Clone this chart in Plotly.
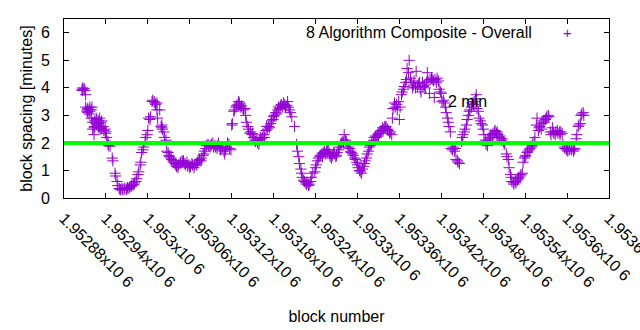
import plotly.graph_objects as go

blocks = [
    1952906, 1952906, 1952907, 1952907, 1952909, 1952910, 1952911, 1952911, 1952913, 1952913,
    1952914, 1952914, 1952916, 1952916, 1952917, 1952917, 1952919, 1952919, 1952920, 1952921,
    1952921, 1952923, 1952923, 1952924, 1952924, 1952926, 1952926, 1952927, 1952927, 1952929,
    1952929, 1952930, 1952930, 1952931, 1952931, 1952933, 1952933, 1952934, 1952934, 1952936,
    1952937, 1952939, 1952939, 1952940, 1952941, 1952943, 1952943, 1952944, 1952946, 1952949,
    1952950, 1952953, 1952954, 1952956, 1952957, 1952959, 1952960, 1952961, 1952963, 1952964,
    1952966, 1952967, 1952969, 1952970, 1952971, 1952973, 1952974, 1952976, 1952977, 1952979,
    1952980, 1952981, 1952983, 1952984, 1952986, 1952987, 1952989, 1952990, 1952991, 1952993,
    1952994, 1952996, 1952997, 1952999, 1953000, 1953001, 1953003, 1953004, 1953006, 1953007,
    1953009, 1953010, 1953011, 1953013, 1953013, 1953014, 1953017, 1953019, 1953020, 1953020,
    1953021, 1953023, 1953024, 1953026, 1953027, 1953029, 1953030, 1953031, 1953033, 1953034,
    1953036, 1953037, 1953039, 1953040, 1953041, 1953043, 1953044, 1953046, 1953047, 1953049,
    1953050, 1953051, 1953053, 1953054, 1953056, 1953057, 1953059, 1953060, 1953061, 1953063,
    1953064, 1953066, 1953067, 1953069, 1953070, 1953071, 1953073, 1953074, 1953076, 1953077,
    1953079, 1953080, 1953081, 1953083, 1953084, 1953086, 1953087, 1953089, 1953090, 1953091,
    1953093, 1953094, 1953096, 1953097, 1953099, 1953100, 1953101, 1953103, 1953104, 1953106,
    1953107, 1953109, 1953110, 1953111, 1953113, 1953114, 1953116, 1953117, 1953119, 1953120,
    1953121, 1953123, 1953124, 1953126, 1953127, 1953129, 1953130, 1953131, 1953133, 1953134,
    1953136, 1953137, 1953139, 1953140, 1953141, 1953143, 1953144, 1953146, 1953147, 1953149,
    1953150, 1953151, 1953153, 1953154, 1953156, 1953157, 1953159, 1953160, 1953161, 1953163,
    1953164, 1953166, 1953167, 1953169, 1953170, 1953171, 1953173, 1953174, 1953176, 1953177,
    1953179, 1953180, 1953181, 1953183, 1953184, 1953186, 1953187, 1953189, 1953190, 1953191,
    1953193, 1953194, 1953196, 1953197, 1953199, 1953200, 1953201, 1953203, 1953204, 1953206,
    1953210, 1953213, 1953214, 1953216, 1953217, 1953219, 1953220, 1953221, 1953223, 1953224,
    1953226, 1953227, 1953229, 1953230, 1953231, 1953233, 1953234, 1953236, 1953239, 1953240,
    1953241, 1953243, 1953244, 1953246, 1953247, 1953249, 1953250, 1953251, 1953253, 1953254,
    1953256, 1953257, 1953259, 1953260, 1953261, 1953263, 1953264, 1953266, 1953267, 1953269,
    1953270, 1953271, 1953273, 1953274, 1953276, 1953277, 1953279, 1953280, 1953281, 1953283,
    1953284, 1953286, 1953287, 1953289, 1953290, 1953291, 1953293, 1953294, 1953296, 1953297,
    1953299, 1953300, 1953301, 1953303, 1953304, 1953306, 1953307, 1953309, 1953310, 1953311,
    1953313, 1953314, 1953316, 1953317, 1953319, 1953320, 1953321, 1953323, 1953324, 1953326,
    1953327, 1953329, 1953330, 1953331, 1953333, 1953334, 1953336, 1953337, 1953339, 1953340,
    1953341, 1953343, 1953344, 1953346, 1953347, 1953349, 1953350, 1953351, 1953353, 1953354,
    1953356, 1953357, 1953359, 1953360, 1953361, 1953363, 1953364, 1953366, 1953367, 1953369,
    1953370, 1953371, 1953373, 1953374, 1953376, 1953377, 1953379, 1953380, 1953381, 1953383,
    1953384, 1953386, 1953387, 1953389, 1953390, 1953391, 1953393, 1953394, 1953396, 1953397,
    1953399, 1953400, 1953401, 1953403, 1953404, 1953406, 1953407, 1953409, 1953410, 1953411,
    1953413, 1953414, 1953416, 1953417, 1953419, 1953420, 1953421, 1953423, 1953424, 1953426,
    1953427, 1953429, 1953430, 1953431, 1953433, 1953434, 1953436, 1953437, 1953439, 1953440,
    1953441, 1953443, 1953444, 1953446, 1953449, 1953450, 1953451, 1953453, 1953454, 1953456,
    1953457, 1953459, 1953460, 1953461, 1953463, 1953464, 1953466, 1953467, 1953469, 1953470,
    1953471, 1953473, 1953474, 1953476, 1953477, 1953479, 1953480, 1953481, 1953483, 1953484,
    1953486, 1953487, 1953489, 1953490, 1953491, 1953493, 1953494, 1953496, 1953497, 1953499,
    1953500, 1953501, 1953503, 1953504, 1953506, 1953507, 1953509, 1953510, 1953511, 1953513,
    1953514, 1953516, 1953517, 1953519, 1953520, 1953521, 1953523, 1953524, 1953526, 1953527,
    1953529, 1953530, 1953531, 1953533, 1953534, 1953536, 1953537, 1953539, 1953540, 1953541,
    1953543, 1953544, 1953546, 1953547, 1953549, 1953550, 1953551, 1953553, 1953554, 1953556,
    1953557, 1953559, 1953560, 1953561, 1953563, 1953564, 1953566, 1953567, 1953569, 1953570,
    1953571, 1953573, 1953574, 1953576, 1953577, 1953579, 1953580, 1953581, 1953583, 1953584,
    1953586, 1953587, 1953589, 1953590, 1953591, 1953593, 1953594, 1953596, 1953597, 1953599,
    1953600, 1953601, 1953603, 1953604, 1953606, 1953607, 1953609, 1953610, 1953611, 1953613,
    1953614, 1953616, 1953617, 1953619, 1953620, 1953621, 1953623, 1953624,
]

spacing = [
    3.95, 3.90, 4.00, 3.92, 3.97, 3.90, 3.75, 3.30, 3.20, 3.15,
    3.25, 3.10, 3.20, 3.05, 3.15, 3.30, 3.20, 2.90, 3.30, 2.75,
    2.50, 2.55, 2.30, 2.60, 2.80, 2.70, 2.90, 2.85, 2.65, 2.80,
    2.60, 2.70, 2.55, 2.90, 2.60, 2.75, 2.50, 2.80, 2.55, 2.60,
    2.45, 2.50, 2.35, 2.40, 2.20, 2.05, 1.95, 1.90, 1.88, 1.45,
    1.35, 0.90, 0.80, 0.60, 0.45, 0.35, 0.32, 0.30, 0.35, 0.30,
    0.32, 0.36, 0.30, 0.33, 0.38, 0.35, 0.40, 0.42, 0.45, 0.50,
    0.48, 0.55, 0.60, 0.70, 0.85, 0.95, 1.20, 1.30, 1.65, 1.75,
    1.85, 2.05, 2.20, 2.30, 2.45, 2.90, 2.85, 2.95, 3.50, 3.55,
    3.50, 3.45, 3.40, 3.45, 3.20, 2.90, 3.20, 2.60, 2.55, 2.65,
    2.50, 2.40, 2.20, 2.10, 1.70, 1.65, 1.55, 1.50, 1.45, 1.40,
    1.35, 1.30, 1.25, 1.20, 1.15, 1.10, 1.20, 1.25, 1.30, 1.35,
    1.30, 1.35, 1.25, 1.20, 1.30, 1.15, 1.20, 1.10, 1.15, 1.25,
    1.20, 1.10, 1.20, 1.25, 1.20, 1.30, 1.35, 1.40, 1.35, 1.45,
    1.55, 1.60, 1.70, 1.80, 1.90, 1.95, 1.90, 1.85, 1.90, 1.95,
    2.00, 1.85, 1.90, 1.85, 1.80, 1.90, 2.00, 1.85, 1.75, 1.80,
    1.85, 1.70, 1.60, 1.75, 1.85, 2.00, 1.95, 1.80, 1.75, 2.65,
    2.70, 3.15, 3.20, 3.30, 3.35, 3.40, 3.50, 3.45, 3.30, 3.35,
    3.25, 3.20, 3.25, 3.00, 2.75, 2.60, 2.50, 2.35, 2.40, 2.30,
    2.35, 2.20, 2.10, 2.05, 2.10, 2.00, 1.95, 2.10, 2.20, 2.15,
    2.20, 2.30, 2.20, 2.45, 2.60, 2.50, 2.60, 2.55, 2.70, 2.80,
    2.85, 2.95, 3.00, 3.10, 3.05, 3.20, 3.30, 3.25, 3.35, 3.40,
    3.30, 3.45, 3.40, 3.30, 3.35, 3.50, 3.30, 3.20, 3.10, 2.95,
    2.60, 1.95, 1.70, 1.50, 1.25, 1.05, 0.90, 0.75, 0.65, 0.60,
    0.55, 0.50, 0.55, 0.45, 0.50, 0.60, 0.75, 0.90, 0.95, 1.10,
    1.20, 1.35, 1.45, 1.50, 1.55, 1.60, 1.50, 1.65, 1.70, 1.60,
    1.75, 1.70, 1.75, 1.60, 1.50, 1.45, 1.55, 1.65, 1.60, 1.50,
    1.55, 1.65, 1.75, 1.85, 1.95, 2.00, 2.05, 2.00, 2.30, 2.10,
    2.05, 1.95, 1.85, 1.80, 1.70, 1.65, 1.60, 1.55, 1.45, 1.40,
    1.30, 1.20, 1.10, 1.00, 0.95, 0.90, 1.05, 1.15, 1.25, 1.35,
    1.45, 1.60, 1.70, 1.85, 1.90, 1.95, 2.05, 2.10, 2.20, 2.25,
    2.20, 2.30, 2.25, 2.35, 2.40, 2.45, 2.55, 2.50, 2.60, 2.55,
    2.60, 2.50, 2.45, 2.35, 2.40, 2.30, 2.90, 3.25, 3.45, 3.30,
    3.40, 3.20, 3.50, 2.85, 3.30, 3.75, 3.85, 3.95, 4.05, 4.20,
    4.30, 4.70, 4.55, 5.00, 4.35, 4.20, 4.00, 4.10, 4.25, 4.00,
    4.60, 4.05, 4.15, 4.20, 3.95, 3.85, 4.20, 4.05, 4.10, 4.00,
    4.20, 4.55, 4.25, 3.80, 4.30, 4.35, 4.30, 4.25, 3.65, 4.30,
    4.20, 4.35, 4.25, 3.95, 3.85, 3.80, 3.50, 3.55, 3.45, 3.30,
    3.10, 2.90, 2.75, 2.60, 2.40, 1.80, 1.75, 1.85, 1.70, 1.80,
    1.40, 1.35, 1.30, 1.25, 2.05, 2.20, 2.30, 2.40, 2.50, 2.65,
    2.85, 3.00, 3.15, 3.20, 3.30, 3.45, 3.40, 3.50, 3.60, 3.75,
    3.25, 3.15, 2.90, 2.80, 2.70, 2.65, 2.50, 2.30, 2.10, 1.95,
    1.90, 2.10, 2.15, 2.20, 2.30, 2.25, 2.35, 2.40, 2.45, 2.35,
    2.40, 2.30, 2.20, 2.25, 2.10, 2.15, 2.05, 1.95, 2.00, 1.60,
    1.50, 1.40, 1.10, 0.85, 0.75, 0.60, 0.55, 0.50, 0.60, 0.55,
    0.65, 0.70, 0.75, 0.80, 0.85, 0.90, 1.30, 1.45, 1.50, 1.55,
    1.65, 1.70, 1.75, 1.80, 1.85, 1.90, 2.00, 2.05, 2.20, 2.65,
    2.90, 2.45, 2.55, 2.60, 2.50, 2.70, 2.80, 2.75, 2.85, 2.90,
    2.95, 3.00, 2.95, 2.40, 2.30, 2.55, 2.40, 2.35, 2.30, 2.40,
    2.45, 2.35, 2.40, 2.30, 2.40, 2.35, 1.95, 1.85, 1.80, 1.75,
    1.80, 1.70, 1.75, 1.80, 1.75, 1.80, 1.70, 1.75, 1.80, 2.15,
    2.30, 2.60, 2.65, 2.70, 3.00, 3.05, 3.10, 3.00,
]

x_tick_values = [1952880, 1952940, 1953000, 1953060, 1953120, 1953180, 1953240,
                 1953300, 1953360, 1953420, 1953480, 1953540, 1953600, 1953660]
x_tick_labels = ["1.95288x10 6", "1.95294x10 6", "1.953x10 6", "1.95306x10 6",
                 "1.95312x10 6", "1.95318x10 6", "1.95324x10 6", "1.9533x10 6",
                 "1.95336x10 6", "1.95342x10 6", "1.95348x10 6", "1.95354x10 6",
                 "1.9536x10 6", "1.95366x10 6"]
y_tick_values = [0, 1, 2, 3, 4, 5, 6]

target_minutes = 2
series_name = "8 Algorithm Composite - Overall"
target_label = "2 min"
target_label_block = 1953426
target_label_value = 3.5

purple = "#9400d3"
font_family = "Liberation Sans, Arial, sans-serif"
fsize = 16

fig = go.Figure()
fig.add_trace(go.Scatter(
    x=blocks, y=spacing, mode="markers", name=series_name,
    marker=dict(symbol="cross-thin", size=8, line=dict(width=1, color=purple), color=purple),
    showlegend=False,
))

fig.add_shape(type="line", xref="paper", x0=0, x1=1, yref="y",
              y0=target_minutes, y1=target_minutes,
              line=dict(color="#00ff00", width=4), layer="above")

fig.add_annotation(x=target_label_block, y=target_label_value, text=target_label,
                   showarrow=False, xanchor="left", yanchor="middle",
                   font=dict(size=fsize, color="black", family=font_family))

# gnuplot-style key: text then sample symbol at right
fig.add_annotation(xref="paper", yref="paper", x=0.862, y=0.927, text=series_name,
                   showarrow=False, xanchor="right", yanchor="middle",
                   font=dict(size=fsize, color="black", family=font_family))
fig.add_annotation(xref="paper", yref="paper", x=0.923, y=0.927, text="+",
                   showarrow=False, xanchor="center", yanchor="middle",
                   font=dict(size=15, color=purple, family=font_family))

axis_common = dict(showline=True, linecolor="black", linewidth=1, mirror="allticks",
                   ticks="inside", ticklen=5, tickcolor="black", showgrid=False,
                   zeroline=False, automargin=False,
                   tickfont=dict(size=fsize, color="black", family=font_family))

fig.update_xaxes(range=[1952880, 1953660.01], tickvals=x_tick_values, ticktext=x_tick_labels,
                 tickangle=45, ticklabelstandoff=4, ticklabeloverflow="allow",
                 title=dict(text="block number", standoff=21,
                            font=dict(size=fsize, color="black", family=font_family)),
                 **axis_common)
fig.update_yaxes(range=[0, 6.5], tickvals=y_tick_values, ticklabelstandoff=10,
                 title=dict(text="block spacing [minutes]", standoff=4,
                            font=dict(size=fsize, color="black", family=font_family)),
                 **axis_common)

fig.update_layout(width=640, height=330, margin=dict(l=64, r=31, t=19, b=132),
                  paper_bgcolor="white", plot_bgcolor="white", showlegend=False)

fig.write_html("out.html")
